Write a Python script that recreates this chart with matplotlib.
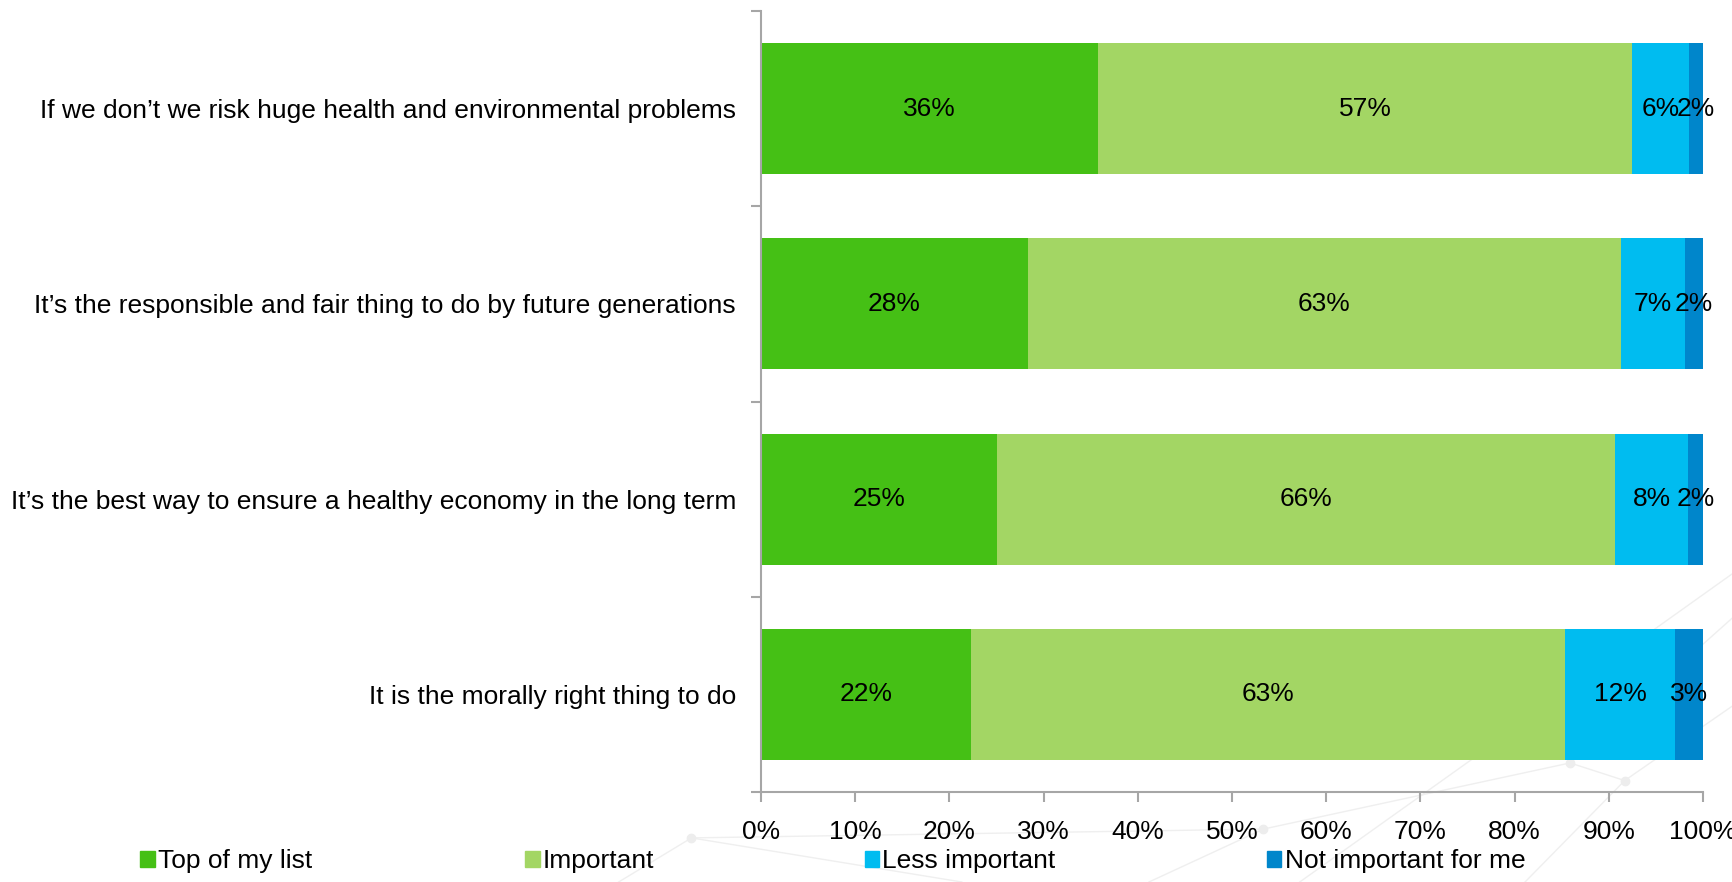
import numpy as np
import matplotlib.pyplot as plt
from matplotlib.lines import Line2D
from matplotlib.patches import Patch

plt.rcParams['font.family'] = ['Liberation Sans', 'DejaVu Sans']

# reasons, top to bottom
reasons = [
    "If we don\u2019t we risk huge health and environmental problems",
    "It\u2019s the responsible and fair thing to do by future generations",
    "It\u2019s the best way to ensure a healthy economy in the long term",
    "It is the morally right thing to do",
]
top_of_list = [35.8, 28.3, 25.1, 22.3]
important = [56.7, 63.0, 65.6, 63.1]
less_important = [6.0, 6.8, 7.7, 11.6]
not_important = [1.5, 1.9, 1.6, 3.0]

series = ["Top of my list", "Important", "Less important", "Not important for me"]
colors = ["#45C015", "#A3D664", "#00BCF0", "#0086CB"]
x_ticks = np.arange(0, 101, 10)

FS = 19

fig = plt.figure(figsize=(17.33, 8.82), dpi=100)

# faint decorative network in the background
bg = fig.add_axes([0, 0, 1, 1], zorder=-1)
bg.set_xlim(0, 1)
bg.set_ylim(0, 1)
bg.axis('off')
nodes = {'a': (0.399, 0.050), 'b': (0.729, 0.060), 'c': (0.906, 0.135), 'd': (0.9375, 0.115)}
edges = [((0.357, 0.0), nodes['a']), (nodes['a'], (0.555, 0.0)),
         ((0.663, 0.0), nodes['b']), (nodes['b'], nodes['c']),
         (nodes['c'], nodes['d']), (nodes['d'], (1.0, 0.20)),
         (nodes['c'], (1.0, 0.30)), (nodes['d'], (0.88, 0.0)),
         ((0.75, 0.0), (1.0, 0.35)), (nodes['a'], nodes['b'])]
for (x0, y0), (x1, y1) in edges:
    bg.add_line(Line2D([x0, x1], [y0, y1], color='#EFEFEF', lw=1.0))
for px, py in nodes.values():
    bg.plot(px, py, 'o', color='#EDEDED', ms=6)

ax = fig.add_axes([761 / 1733, 1 - 792 / 882, 942 / 1733, 781 / 882])
ax.patch.set_alpha(0)

y = np.arange(len(reasons))
left = np.zeros(len(reasons))
for vals, color in zip([top_of_list, important, less_important, not_important], colors):
    vals = np.array(vals)
    ax.barh(y, vals, left=left, height=0.67, color=color)
    for yi, l, v in zip(y, left, vals):
        ax.text(l + v / 2, yi, f"{v:.0f}%", ha='center', va='center', fontsize=FS)
    left += vals

ax.set_xlim(0, 100)
ax.set_ylim(len(reasons) - 0.5, -0.5)
ax.set_xticks(x_ticks)
ax.set_xticklabels([f"{t}%" for t in x_ticks], fontsize=FS)
ax.set_yticks(y)
ax.set_yticklabels(reasons, fontsize=FS)
ax.set_yticks(np.arange(-0.5, len(reasons)), minor=True)
ax.tick_params(axis='y', which='major', length=0, pad=18)
ax.tick_params(axis='y', which='minor', length=7, color='#A6A6A6', width=1.5)
ax.tick_params(axis='x', length=7, color='#A6A6A6', width=1.5, pad=13)
ax.spines[['top', 'right']].set_visible(False)
for s in ['left', 'bottom']:
    ax.spines[s].set_color('#A6A6A6')
    ax.spines[s].set_linewidth(1.5)

# legend entries spread along the bottom
legend_x = [0.081, 0.303, 0.499, 0.731]
for name, color, lx in zip(series, colors, legend_x):
    fig.legend(handles=[Patch(color=color)], labels=[name], loc='center left',
               bbox_to_anchor=(lx, 1 - 861 / 882), frameon=False, fontsize=FS,
               handlelength=0.55, handleheight=0.55, handletextpad=0.12,
               borderpad=0, borderaxespad=0)

fig.savefig('out.png', dpi=100)
